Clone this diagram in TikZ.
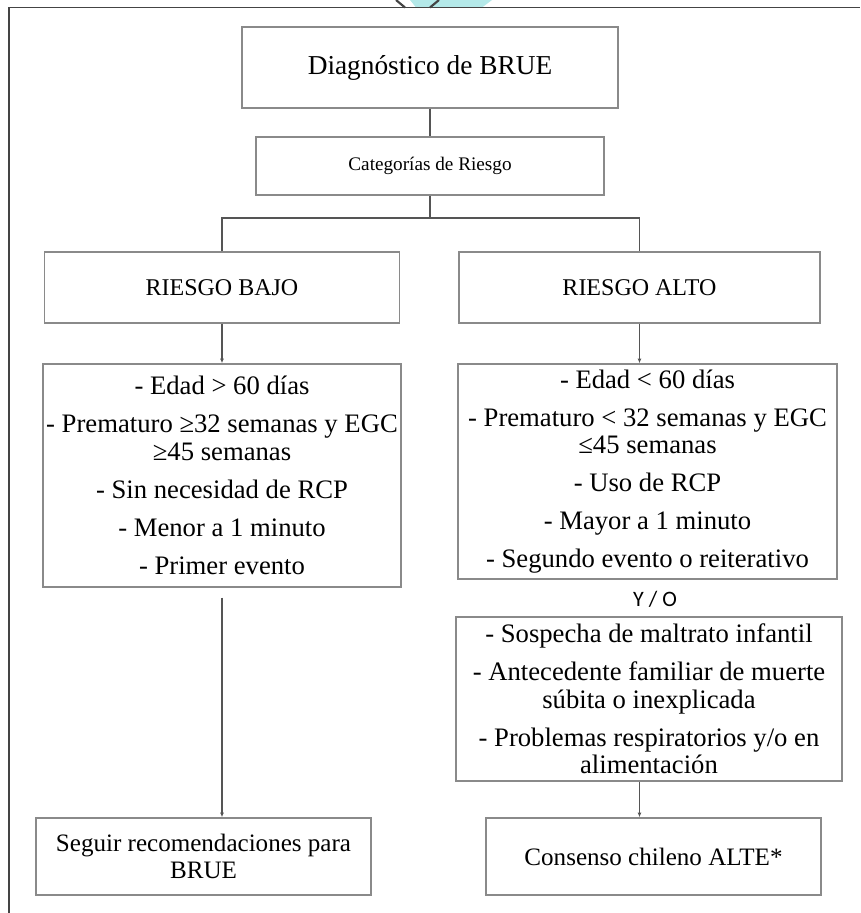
\documentclass[tikz,border=0pt]{standalone}
\usepackage{fontspec}
\setmainfont{Liberation Serif}
\newfontfamily\yofont{Carlito}
\usetikzlibrary{arrows.meta}

\definecolor{boxgray}{HTML}{8A8A8A}
\definecolor{linegray}{HTML}{555555}
\definecolor{framegray}{HTML}{444444}
\definecolor{logocyan}{HTML}{B4E9E9}

\begin{document}
\begin{tikzpicture}[x=0.75pt, y=-0.75pt,
                    box/.style={draw=boxgray, line width=1.1pt, align=center, inner sep=0pt,
                                font=\fontsize{20}{20.5}\selectfont},
                    link/.style={draw=linegray, line width=0.8pt},
                    arrow/.style={link, -{Latex[length=3.5pt,width=3pt]}}]
  \useasboundingbox (0,0) rectangle (860,913);

  % frame and logo piece at the top
  \fill[logocyan] (410,0) -- (492,0) -- (482,7.5) -- (416,7.5) -- cycle;
  \draw[framegray, line width=1.6pt] (396,0) -- (405,7.5);
  \draw[framegray, line width=1.6pt] (439,0) -- (430,7.5);
  \draw[framegray, line width=1.2pt] (9,913) -- (9,7.5) -- (860,7.5);

  \node[box, minimum width=282pt, minimum height=60.75pt, font=\fontsize{20.5}{22}\selectfont]
    (diag) at (430,67.5) {Diagnóstico de BRUE};
  \node[box, minimum width=261pt, minimum height=43.5pt, font=\fontsize{14.4}{16}\selectfont]
    (cat) at (430,166) {Categorías de Riesgo};
  \node[box, minimum width=266.25pt, minimum height=53.25pt, font=\fontsize{18}{20}\selectfont]
    (bajo) at (222,287.5) {RIESGO BAJO};
  \node[box, minimum width=270.75pt, minimum height=53.25pt, font=\fontsize{18}{20}\selectfont]
    (alto) at (639.5,287.5) {RIESGO ALTO};

  \node[box, minimum width=268.5pt, minimum height=167.25pt] (critbajo) at (222,475.5)
    {- Edad > 60 días\\[8pt]
     - Prematuro ≥32 semanas y EGC\\ ≥45 semanas\\[8pt]
     - Sin necesidad de RCP\\[8pt]
     - Menor a 1 minuto\\[8pt]
     - Primer evento};
  \node[box, minimum width=284.25pt, minimum height=161.25pt] (critalto) at (647.5,471.5)
    {- Edad < 60 días\\[8pt]
     - Prematuro < 32 semanas y EGC\\ ≤45 semanas\\[8pt]
     - Uso de RCP\\[8pt]
     - Mayor a 1 minuto\\[8pt]
     - Segundo evento o reiterativo};
  \node[font=\yofont\fontsize{16.5}{18}\selectfont, inner sep=0pt] (yo) at (655,599) {Y / O};
  \node[box, minimum width=289.5pt, minimum height=123pt] (otros) at (649,699)
    {- Sospecha de maltrato infantil\\[8pt]
     - Antecedente familiar de muerte\\ súbita o inexplicada\\[8pt]
     - Problemas respiratorios y/o en\\ alimentación};

  \node[box, minimum width=251.25pt, minimum height=57.75pt, font=\fontsize{18.8}{20.5}\selectfont]
    (seguir) at (203.5,856.5) {Seguir recomendaciones para\\ BRUE};
  \node[box, minimum width=251.25pt, minimum height=57.75pt, font=\fontsize{18.8}{20.5}\selectfont]
    (alte) at (653.5,856.5) {Consenso chileno ALTE*};

  \coordinate (split) at (430,218);
  \draw[link] (diag) -- (cat);
  \draw[link] (cat) -- (split);
  \draw[link] (bajo.north) |- (split) -| (alto.north);
  \draw[arrow] (bajo) -- (critbajo);
  \draw[arrow] (alto.south) -- (alto.south |- critalto.north);
  \draw[arrow] ([yshift=-7.5pt]critbajo.south) -- (critbajo.south |- seguir.north);
  \draw[arrow] (alto.south |- otros.south) -- (alto.south |- alte.north);
\end{tikzpicture}
\end{document}
